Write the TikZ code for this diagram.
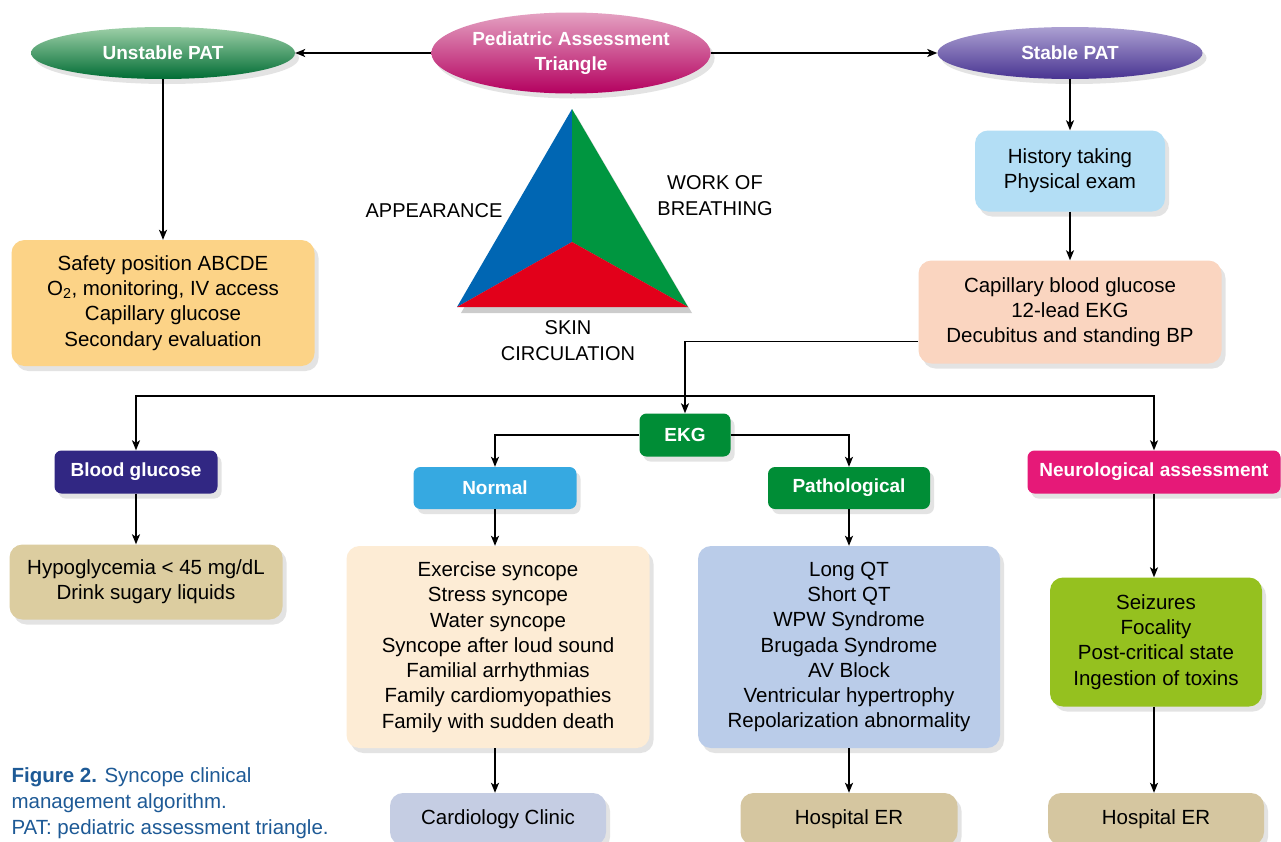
\documentclass[tikz,border=0pt]{standalone}
\usepackage{fontspec}
\setmainfont{Liberation Sans}
\usepackage{tikz}
\usetikzlibrary{shapes}
\usetikzlibrary{shadows}
\usetikzlibrary{arrows.meta}
\usetikzlibrary{calc}
\usepackage{xcolor}
\definecolor{unstableTop}{RGB}{158,208,168}
\definecolor{unstableBot}{RGB}{0,108,52}
\definecolor{patTop}{RGB}{228,162,194}
\definecolor{patBot}{RGB}{180,0,95}
\definecolor{stableTop}{RGB}{172,160,210}
\definecolor{stableBot}{RGB}{72,52,145}
\definecolor{safetyFill}{RGB}{252,211,135}
\definecolor{historyFill}{RGB}{179,222,245}
\definecolor{capFill}{RGB}{250,213,192}
\definecolor{bloodFill}{RGB}{49,39,131}
\definecolor{normalFill}{RGB}{54,169,225}
\definecolor{ekgFill}{RGB}{0,141,54}
\definecolor{neuroFill}{RGB}{230,25,120}
\definecolor{hypoFill}{RGB}{220,205,160}
\definecolor{normListFill}{RGB}{253,236,213}
\definecolor{pathListFill}{RGB}{186,204,233}
\definecolor{neuroListFill}{RGB}{149,193,31}
\definecolor{clinicFill}{RGB}{197,205,227}
\definecolor{erFill}{RGB}{213,198,160}
\definecolor{capBlue}{RGB}{30,90,150}
\definecolor{triBlue}{RGB}{0,102,179}
\definecolor{triGreen}{RGB}{0,150,64}
\definecolor{triRed}{RGB}{226,0,26}
\tikzset{myshadow/.style={drop shadow={opacity=0.22, shadow xshift=4pt, shadow yshift=-5pt}}}
\tikzset{myoval/.style={ellipse, inner sep=0pt, text=white, align=center, font=\bfseries\fontsize{19}{25}\selectfont, myshadow}}
\tikzset{mytag/.style={rounded corners=7pt, inner sep=0pt, text=white, font=\bfseries\fontsize{19}{25}\selectfont, myshadow}}
\tikzset{mybox/.style={rounded corners=13pt, inner sep=0pt, align=center, font=\fontsize{20.5}{25.3}\selectfont, myshadow}}
\tikzset{mylabel/.style={align=center, font=\fontsize{20}{26}\selectfont}}
\tikzset{myarrow/.style={-{Stealth[length=10pt,width=8pt,inset=2.5pt]}, line width=1.4pt}}
\tikzset{mythick/.style={myarrow, line width=2.2pt}}

\begin{document}
\begin{tikzpicture}[x=1pt, y=-1pt]

\fill[white] (0,0) rectangle (1281,841);
\useasboundingbox (0,0) rectangle (1281,841);

% top row
\node[myoval, top color=patTop, bottom color=patBot, minimum width=265pt, minimum height=81pt] (pat) at (571, 53) {Pediatric Assessment\\Triangle};
\node[myoval, top color=unstableTop, bottom color=unstableBot, minimum width=264pt, minimum height=52pt] (unstable) at (163, 53) {Unstable PAT};
\node[myoval, top color=stableTop, bottom color=stableBot, minimum width=265pt, minimum height=52pt] (stable) at (1070, 53) {Stable PAT};

% triangle
\coordinate (apex) at (572, 109);
\coordinate (bl) at (457, 307);
\coordinate (br) at (688, 307);
\coordinate (mid) at (572, 242);
\fill[black, opacity=0.2] ([shift={(4,6)}]apex) -- ([shift={(4,6)}]bl) -- ([shift={(4,6)}]br) -- cycle;
\fill[triBlue] (apex) -- (bl) -- (mid) -- cycle;
\fill[triGreen] (apex) -- (mid) -- (br) -- cycle;
\fill[triRed] (bl) -- (mid) -- (br) -- cycle;
\node[mylabel] (appear) at (434, 211) {APPEARANCE};
\node[mylabel] (work) at (715, 196) {WORK OF\\BREATHING};
\node[mylabel] (skin) at (568, 341) {SKIN\\CIRCULATION};

% second row
\node[mybox, fill=safetyFill, minimum width=303pt, minimum height=126pt] (safety) at (163, 303) {Safety position ABCDE\\O\textsubscript{2}, monitoring, IV access\\Capillary glucose\\Secondary evaluation};
\node[mybox, fill=historyFill, minimum width=190pt, minimum height=81pt] (history) at (1070, 171) {History taking\\Physical exam};
\node[mybox, fill=capFill, minimum width=303pt, minimum height=103pt] (capillary) at (1070, 312) {Capillary blood glucose\\12-lead EKG\\Decubitus and standing BP};

% tags
\node[mytag, fill=ekgFill, minimum width=91pt, minimum height=43pt] (ekg) at (685, 435) {EKG};
\node[mytag, fill=bloodFill, minimum width=163pt, minimum height=43pt] (blood) at (136, 472) {Blood glucose};
\node[mytag, fill=normalFill, minimum width=163pt, minimum height=42pt] (normal) at (495, 488) {Normal};
\node[mytag, fill=ekgFill, minimum width=162pt, minimum height=42pt] (patho) at (849, 488) {Pathological};
\node[mytag, fill=neuroFill, minimum width=253pt, minimum height=43pt] (neuro) at (1154, 472) {Neurological assessment};

% lists
\node[mybox, fill=hypoFill, minimum width=273pt, minimum height=75pt] (hypo) at (146, 582) {Hypoglycemia < 45 mg/dL\\Drink sugary liquids};
\node[mybox, fill=normListFill, minimum width=303pt, minimum height=202pt] (normlist) at (498, 647) {Exercise syncope\\Stress syncope\\Water syncope\\Syncope after loud sound\\Familial arrhythmias\\Family cardiomyopathies\\Family with sudden death};
\node[mybox, fill=pathListFill, minimum width=302pt, minimum height=202pt] (pathlist) at (849, 647) {Long QT\\Short QT\\WPW Syndrome\\Brugada Syndrome\\AV Block\\Ventricular hypertrophy\\Repolarization abnormality};
\node[mybox, fill=neuroListFill, minimum width=212pt, minimum height=129pt] (neurolist) at (1156, 642) {Seizures\\Focality\\Post-critical state\\Ingestion of toxins};

% bottom
\node[mybox, fill=clinicFill, minimum width=216pt, minimum height=52pt] (clinic) at (498, 819) {Cardiology Clinic};
\node[mybox, fill=erFill, minimum width=217pt, minimum height=52pt] (er1) at (849, 819) {Hospital ER};
\node[mybox, fill=erFill, minimum width=216pt, minimum height=52pt] (er2) at (1156, 819) {Hospital ER};

\node[anchor=west, align=left, text=capBlue, font=\fontsize{20.5}{26}\selectfont] (caption) at (8, 803) {\textbf{Figure 2.} Syncope clinical\\management algorithm.\\PAT: pediatric assessment triangle.};

% connectors
\draw[myarrow] (pat) -- (unstable);
\draw[myarrow] (pat) -- (stable);
\draw[myarrow] (unstable) -- (safety);
\draw[myarrow] (stable) -- (history);
\draw[myarrow] (history) -- (capillary);
\coordinate (split) at (686, 396);
\draw[myarrow] ([yshift=22pt]capillary.south west) -| (ekg.north);
\draw[myarrow] (split) -| (blood.north);
\draw[myarrow] (split) -| (neuro.north);
\draw[myarrow] (ekg.west) -| (normal.north);
\draw[myarrow] (ekg.east) -| (patho.north);
\draw[myarrow] (blood.south) -- (blood.south |- hypo.north);
\draw[mythick] (normal.south) -- (normal.south |- normlist.north);
\draw[mythick] (patho.south) -- (patho.south |- pathlist.north);
\draw[myarrow] (neuro.south) -- (neuro.south |- neurolist.north);
\draw[mythick] (normlist.south -| normal.south) -- (normal.south |- clinic.north);
\draw[mythick] (pathlist.south) -- (er1);
\draw[myarrow] (neurolist.south -| neuro.south) -- (neuro.south |- er2.north);

\end{tikzpicture}
\end{document}
